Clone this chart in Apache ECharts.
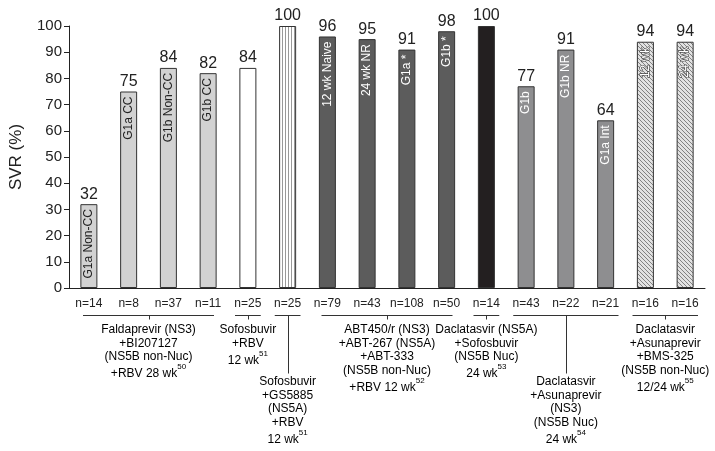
<!DOCTYPE html>
<html><head><meta charset="utf-8">
<script src="https://cdn.jsdelivr.net/npm/echarts@6/dist/echarts.min.js"></script>
<style>html,body{margin:0;padding:0;background:#fff}#c{width:715px;height:451px}</style>
</head><body><div id="c"></div>
<script>
// ---- data ----
const categories = ['n=14','n=8','n=37','n=11','n=25','n=25','n=79','n=43','n=108','n=50','n=14','n=43','n=22','n=21','n=16','n=16'];
const svr = [32,75,84,82,84,100,96,95,91,98,100,77,91,64,94,94];
const barLabels = ['G1a Non-CC','G1a CC','G1b Non-CC','G1b CC','','','12 wk Naive','24 wk NR','G1a *','G1b *','','G1b','G1b NR','G1a Int','12 wk','24 wk'];
const groupFirst = [0,4,5,6,10,11,14];
const groupLast  = [3,4,5,9,10,13,15];
const groupText = [
  ['Faldaprevir (NS3)','+BI207127','(NS5B non-Nuc)','+RBV 28 wk'],
  ['Sofosbuvir','+RBV','12 wk'],
  ['Sofosbuvir','+GS5885','(NS5A)','+RBV','12 wk'],
  ['ABT450/r (NS3)','+ABT-267 (NS5A)','+ABT-333','(NS5B non-Nuc)','+RBV 12 wk'],
  ['Daclatasvir (NS5A)','+Sofosbuvir','(NS5B Nuc)','24 wk'],
  ['Daclatasvir','+Asunaprevir','(NS3)','(NS5B Nuc)','24 wk'],
  ['Daclatasvir','+Asunaprevir','+BMS-325','(NS5B non-Nuc)','12/24 wk']
];
const groupRefs = ['50','51','51','52','53','54','55'];
const yTicks = [0,10,20,30,40,50,60,70,80,90,100];

// ---- styles ----
const FONT = 'Arial, "Liberation Sans", sans-serif';
function vstripe(){
  const c=document.createElement('canvas');c.width=3;c.height=6;
  const g=c.getContext('2d');g.fillStyle='#fff';g.fillRect(0,0,3,6);
  g.fillStyle='#999';g.fillRect(0,0,1,6);return c;
}
function hatch(){
  const c=document.createElement('canvas');c.width=4;c.height=4;
  const g=c.getContext('2d');g.fillStyle='#e2e2e2';g.fillRect(0,0,4,4);
  g.strokeStyle='#777';g.lineWidth=0.9;
  g.beginPath();g.moveTo(-1,-1);g.lineTo(5,5);g.moveTo(-1,3);g.lineTo(1,5);g.moveTo(3,-1);g.lineTo(5,1);g.stroke();
  return c;
}
const groupFill = ['#d2d2d2','#ffffff',{image:vstripe(),repeat:'repeat'},'#5c5c5c','#231f20','#8e8e90',{image:hatch(),repeat:'repeat'}];
const groupTextColor = ['#222','#222','#222','#fff','#fff','#fff','#fff'];
function groupOf(i){for(let g=0;g<groupFirst.length;g++){if(i>=groupFirst[g]&&i<=groupLast[g])return g;}return 0;}

const mainData = svr.map((v,i)=>{
  const g=groupOf(i);
  return {value:v,itemStyle:{color:groupFill[g]},
    label:{color:groupTextColor[g],textBorderColor:g===6?'#444':'transparent',textBorderWidth:g===6?1.2:0}};
});

const chart = echarts.init(document.getElementById('c'),null,{renderer:'canvas'});
chart.setOption({
  animation:false,
  textStyle:{fontFamily:FONT},
  grid:{left:68,right:10,top:26,bottom:163},
  xAxis:{type:'category',data:categories,
    axisLine:{lineStyle:{color:'#222',width:1}},
    axisTick:{length:5,lineStyle:{color:'#222'}},
    axisLabel:{fontSize:12,color:'#222',margin:10,fontFamily:FONT,interval:0}},
  yAxis:{type:'value',min:0,max:100,interval:10,
    name:'SVR (%)',nameLocation:'middle',nameGap:44,nameRotate:90,
    nameTextStyle:{fontSize:17,color:'#222',fontFamily:FONT},
    splitLine:{show:false},
    axisLine:{show:true,lineStyle:{color:'#222',width:1}},
    axisTick:{show:true,length:5,lineStyle:{color:'#222'}},
    axisLabel:{fontSize:15,color:'#222',margin:7,fontFamily:FONT,
      formatter:v=>yTicks.indexOf(v)>=0?String(v):''}},
  series:[
    {type:'bar',data:mainData,barWidth:17,
      itemStyle:{borderColor:'#333',borderWidth:1},
      label:{show:true,position:'insideTop',rotate:90,align:'right',verticalAlign:'middle',
        distance:5,fontSize:12,fontFamily:FONT,formatter:p=>barLabels[p.dataIndex]}},
    {type:'bar',data:svr,barWidth:17,barGap:'-100%',silent:true,
      itemStyle:{color:'transparent'},
      label:{show:true,position:'top',distance:2,fontSize:16,color:'#222',fontFamily:FONT}}
  ]
});

// ---- regimen annotations placed through the axis scales ----
const c0 = chart.convertToPixel({xAxisIndex:0},0);
const band = chart.convertToPixel({xAxisIndex:0},1)-c0;
const yAxisPix = chart.convertToPixel({yAxisIndex:0},0);
const bracketY = Math.round(yAxisPix+27)+0.5;
const droppedGroups=[2,5];
const graphics=[];
for(let g=0;g<groupFirst.length;g++){
  const left = chart.convertToPixel({xAxisIndex:0},groupFirst[g])-band/2;
  const right= chart.convertToPixel({xAxisIndex:0},groupLast[g])+band/2;
  const inset = (groupLast[g]-groupFirst[g]>=3)?14:7;
  const mid=(left+right)/2;
  const mx=Math.round(mid)+0.5;
  graphics.push({type:'line',shape:{x1:left+inset,y1:bracketY,x2:right-inset,y2:bracketY},style:{stroke:'#333',lineWidth:1}});
  const dropped=droppedGroups.indexOf(g)>=0;
  const tickEnd = dropped? bracketY+58 : bracketY+4;
  graphics.push({type:'line',shape:{x1:mx,y1:bracketY,x2:mx,y2:tickEnd},style:{stroke:'#333',lineWidth:1}});
  const lines=groupText[g].slice();
  const last=lines.length-1;
  const txt=lines.map((l,i)=>i===last?('{t|'+l+'}{s|'+groupRefs[g]+'}'):('{t|'+l+'}')).join('\n');
  graphics.push({type:'text',x:mid,y:dropped?tickEnd+1:bracketY+7,
    style:{text:txt,align:'center',verticalAlign:'top',
      rich:{t:{fontSize:12,lineHeight:13.5,fontFamily:FONT,color:'#222',verticalAlign:'bottom'},
            s:{fontSize:8,lineHeight:17,fontFamily:FONT,color:'#222',verticalAlign:'top'}}}});
}
chart.setOption({graphic:graphics});
</script></body></html>
